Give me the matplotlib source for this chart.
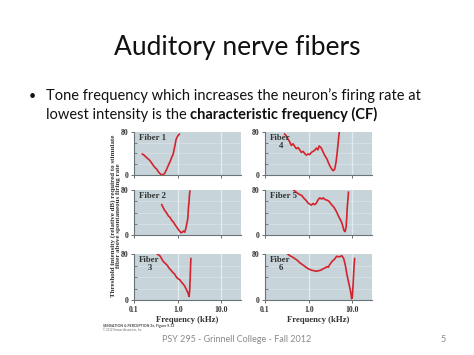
import matplotlib
matplotlib.use("Agg")
import matplotlib.pyplot as plt
from matplotlib.ticker import FixedLocator, NullFormatter

W, H = 474, 355

# ---------------- data ----------------
fiber_names = ["Fiber 1", "Fiber 2", "Fiber\n3", "Fiber\n4", "Fiber 5", "Fiber\n6"]

f1_freq = [0.155, 0.17, 0.19, 0.21, 0.23, 0.25, 0.27, 0.30, 0.33, 0.36, 0.39, 0.43, 0.47, 0.51, 0.56, 0.61, 0.67, 0.73, 0.78, 0.82, 0.87, 0.91, 0.95, 0.98, 1.03, 1.09]
f1_db = [39, 37, 33, 30, 27, 23, 19, 14, 11, 6, 3, 0, 1, 4, 11, 18, 25, 33, 38, 46, 56, 65, 69, 71, 74, 76]

f2_freq = [0.43, 0.47, 0.51, 0.56, 0.61, 0.67, 0.73, 0.80, 0.87, 0.95, 1.03, 1.10, 1.19, 1.27, 1.35, 1.45, 1.55, 1.63, 1.70, 1.74, 1.77, 1.81, 1.85, 1.90]
f2_db = [54, 48, 43, 39, 34, 31, 26, 23, 18, 14, 10, 7, 4, 5, 7, 5, 13, 22, 29, 42, 51, 58, 70, 78]

f3_freq = [0.34, 0.37, 0.40, 0.44, 0.48, 0.53, 0.58, 0.64, 0.70, 0.77, 0.85, 0.93, 1.02, 1.12, 1.22, 1.33, 1.45, 1.58, 1.72, 1.82, 1.88, 1.93, 1.97, 2.00]
f3_db = [80, 78, 76, 70, 66, 63, 60, 55, 52, 48, 45, 40, 37, 35, 31, 28, 24, 18, 12, 6, 18, 40, 60, 72]

f4_freq = [0.28, 0.30, 0.33, 0.36, 0.40, 0.44, 0.48, 0.52, 0.57, 0.62, 0.68, 0.74, 0.81, 0.88, 0.96, 1.05, 1.15, 1.26, 1.37, 1.50, 1.62, 1.73, 1.85, 1.97, 2.15, 2.34, 2.60, 2.85, 3.05, 3.30, 3.60, 3.90, 4.20, 4.45, 4.65, 4.85, 5.00]
f4_db = [76, 74, 68, 63, 55, 58, 53, 49, 51, 47, 42, 44, 40, 37, 39, 38, 42, 44, 46, 50, 47, 54, 52, 49, 42, 36, 30, 22, 17, 12, 8, 10, 23, 40, 55, 70, 80]

f5_freq = [0.45, 0.50, 0.56, 0.62, 0.70, 0.76, 0.81, 0.88, 0.96, 1.05, 1.15, 1.26, 1.38, 1.50, 1.65, 1.80, 1.97, 2.15, 2.35, 2.60, 2.90, 3.33, 3.80, 4.35, 4.90, 5.30, 5.70, 6.05, 6.40, 6.80, 7.15, 7.40, 7.60, 7.85, 8.10]
f5_db = [80, 77, 74, 72, 70, 66, 64, 61, 57, 55, 53, 56, 54, 57, 63, 66, 64, 66, 63, 62, 60, 54, 49, 41, 32, 27, 22, 15, 8, 6, 14, 30, 49, 62, 76]

f6_freq = [0.33, 0.37, 0.42, 0.48, 0.55, 0.62, 0.70, 0.80, 0.90, 1.00, 1.15, 1.30, 1.50, 1.70, 1.90, 2.10, 2.40, 2.60, 2.80, 3.05, 3.40, 3.90, 4.35, 5.00, 5.70, 6.30, 6.90, 7.40, 8.00, 8.60, 9.20, 9.60, 10.0, 10.4, 10.8, 11.2]
f6_db = [80, 77, 75, 72, 69, 65, 62, 59, 56, 54, 52, 51, 50, 51, 52, 54, 56, 58, 57, 62, 67, 71, 76, 75, 77, 72, 60, 46, 34, 23, 12, 2, 8, 30, 55, 72]

fibers_freq = [f1_freq, f2_freq, f3_freq, f4_freq, f5_freq, f6_freq]
fibers_db = [f1_db, f2_db, f3_db, f4_db, f5_db, f6_db]

x_tick_vals = [0.1, 1.0, 10.0]
x_tick_labels = ["0.1", "1.0", "10.0"]
y_tick_vals = [0, 80]
y_tick_labels = ["0", "80"]

# ---------------- figure ----------------
fig = plt.figure(figsize=(W / 100, H / 100), dpi=100)
fig.patch.set_facecolor("white")

def rect(x0, y0, x1, y1):
    return [x0 / W, 1 - y1 / H, (x1 - x0) / W, (y1 - y0) / H]

SANS = ["Lato", "DejaVu Sans"]
SERIF = "Liberation Serif"

fig.text(237 / W, 1 - 47 / H, "Auditory nerve fibers", ha="center", va="center",
         fontsize=19, family=SANS, color="#111111")

fig.text(29 / W, 1 - 100 / H, "\u2022", ha="left", va="baseline", fontsize=9, family=SANS, color="#111111")
fig.text(46 / W, 1 - 100 / H, "Tone frequency which increases the neuron\u2019s firing rate at",
         ha="left", va="baseline", fontsize=10.5, family=SANS, color="#111111")
t1 = fig.text(46 / W, 1 - 119 / H, "lowest intensity is the ", ha="left", va="baseline",
              fontsize=10.5, family=SANS, color="#111111")
fig.canvas.draw()
bb = t1.get_window_extent()
fig.text(bb.x1 / W, 1 - 119 / H, "characteristic frequency (CF)", ha="left", va="baseline",
         fontsize=10.5, family=SANS, weight="bold", color="#111111")

cols = [(134, 241), (265, 372)]
rows = [(132, 175), (190, 235), (254, 300)]

panel_bg = "#c7d4da"
grid_c = "#e2eaed"
red = "#d4232c"

for i in range(6):
    c = i // 3
    r = i % 3
    x0, x1 = cols[c]
    y0, y1 = rows[r]
    ax = fig.add_axes(rect(x0, y0, x1, y1))
    ax.set_facecolor(panel_bg)
    ax.set_xscale("log")
    ax.set_xlim(0.1, 28)
    ax.set_ylim(0, 80)
    for v in [1.0, 10.0]:
        ax.axvline(v, color=grid_c, lw=1.0, zorder=0)
    for v in [20, 40, 60]:
        ax.axhline(v, color=grid_c, lw=0.5, zorder=0, alpha=0.7)
    ax.plot(fibers_freq[i], fibers_db[i], color=red, lw=1.2, zorder=3,
            solid_joinstyle="round")
    for s in ["top", "right"]:
        ax.spines[s].set_visible(False)
    for s in ["left", "bottom"]:
        ax.spines[s].set_color("#6a7478")
        ax.spines[s].set_linewidth(0.8)
    ax.xaxis.set_major_locator(FixedLocator(x_tick_vals))
    ax.xaxis.set_minor_locator(FixedLocator([]))
    ax.xaxis.set_minor_formatter(NullFormatter())
    if r == 2:
        ax.set_xticklabels(x_tick_labels)
    else:
        ax.set_xticklabels([])
    ax.yaxis.set_major_locator(FixedLocator(y_tick_vals))
    ax.set_yticklabels(y_tick_labels)
    ax.yaxis.set_minor_locator(FixedLocator([20, 40, 60]))
    ax.tick_params(axis="both", which="major", length=2.5, width=0.6, color="#555555",
                   labelsize=5.6, pad=1.5, direction="out")
    ax.tick_params(axis="y", which="minor", length=2.5, width=0.6, color="#666666", direction="in")
    for lab in ax.get_xticklabels() + ax.get_yticklabels():
        lab.set_family(SERIF)
        lab.set_weight("bold")
        lab.set_color("#333333")
    ax.text(0.05, 0.95, fiber_names[i], transform=ax.transAxes, ha="left", va="top",
            fontsize=6.3, family=SERIF, weight="bold", color="#333333",
            multialignment="center", linespacing=0.95)
    if r == 2:
        ax.set_xlabel("Frequency (kHz)", fontsize=6.2, family=SERIF, weight="bold",
                      color="#333333", labelpad=2)

fig.text(116 / W, 1 - 216 / H,
         "Threshold intensity (relative dB) required to stimulate\nfiber above spontaneous firing rate",
         rotation=90, ha="center", va="center", fontsize=5.0, family=SERIF, weight="bold",
         color="#333333", linespacing=1.0)

fig.text(103 / W, 1 - 326 / H, "SENSATION & PERCEPTION 3e, Figure 9.13", ha="left", va="center",
         fontsize=2.6, family=SANS, weight="bold", color="#444444")
fig.text(103 / W, 1 - 330 / H, "\u00a9 2012 Sinauer Associates, Inc.", ha="left", va="center",
         fontsize=2.0, family=SANS, color="#666666")

fig.text(237 / W, 1 - 339 / H, "PSY 295 - Grinnell College - Fall 2012", ha="center", va="center",
         fontsize=6.5, family=SANS, color="#8a8a8a")
fig.text(443 / W, 1 - 339 / H, "5", ha="center", va="center", fontsize=6.5, family=SANS,
         color="#8a8a8a")

fig.savefig("out.png", dpi=100, facecolor="white")
